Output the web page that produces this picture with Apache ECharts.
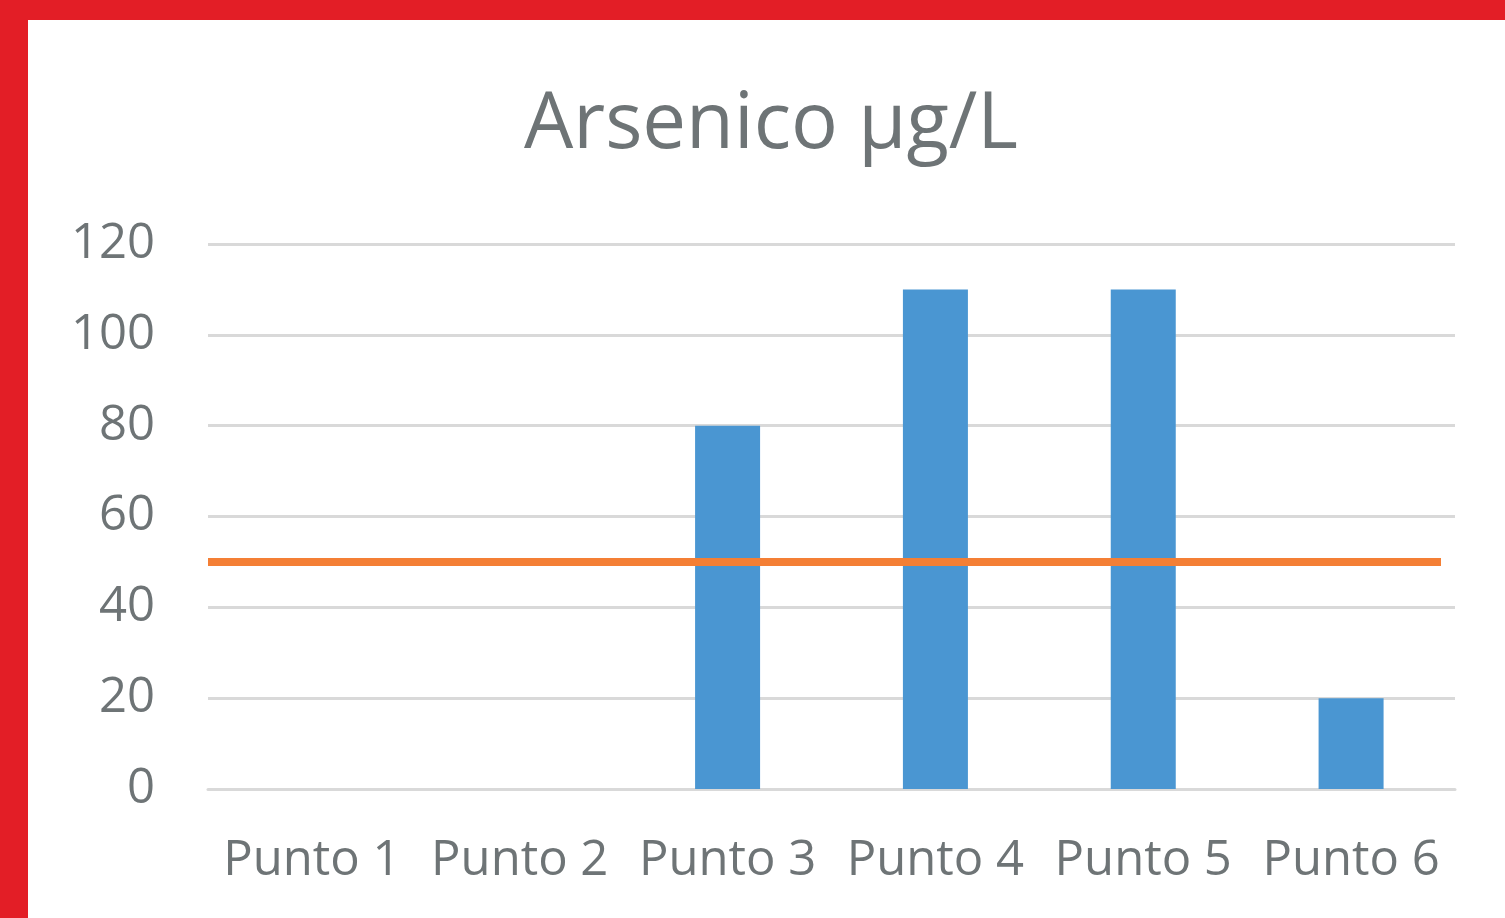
<!DOCTYPE html>
<html>
<head>
<meta charset="utf-8">
<script src="https://cdn.jsdelivr.net/npm/echarts@6/dist/echarts.min.js"></script>
<style>
html,body{margin:0;padding:0;width:1505px;height:918px;overflow:hidden;background:#fff;}
#chart{position:absolute;left:0;top:0;width:1505px;height:918px;}
.red{position:absolute;background:#e31e26;}
</style>
</head>
<body>
<div id="chart"></div>
<div class="red" style="left:0;top:0;width:1505px;height:20px;"></div>
<div class="red" style="left:0;top:0;width:28px;height:918px;"></div>
<script>
const categories = ['Punto 1','Punto 2','Punto 3','Punto 4','Punto 5','Punto 6'];
const arsenico = [0, 0, 80, 110, 110, 20];
const limite = [50, 50, 50, 50, 50, 50];
const yTicks = {min: 0, max: 120, interval: 20};

const chart = echarts.init(document.getElementById('chart'), null, {renderer: 'canvas'});
const font = 'Open Sans';
const gray = '#6e7476';
chart.setOption({
  animation: false,
  backgroundColor: '#ffffff',
  title: {
    text: 'Arsenico µg/L',
    left: 766, top: 82, textAlign: 'center',
    textStyle: {fontFamily: font, fontSize: 78, fontWeight: 'normal', color: gray}
  },
  grid: [
    {left: 208, right: 50, top: 244, bottom: 129},
    {left: 208, right: 64, top: 244, bottom: 129}
  ],
  xAxis: [
    {
      type: 'category', data: categories, gridIndex: 0,
      axisLine: {show: true, lineStyle: {color: '#d9d9d9', width: 3}},
      axisTick: {show: false},
      axisLabel: {fontFamily: font, fontSize: 49, color: gray, margin: 48, interval: 0}
    },
    {
      type: 'category', data: categories, gridIndex: 1, boundaryGap: false, show: false
    }
  ],
  yAxis: [
    {
      type: 'value', gridIndex: 0, min: yTicks.min, max: yTicks.max, interval: yTicks.interval,
      axisLine: {show: false}, axisTick: {show: false},
      axisLabel: {fontFamily: font, fontSize: 49, color: gray, margin: 53},
      splitLine: {lineStyle: {color: '#d9d9d9', width: 3}}
    },
    {
      type: 'value', gridIndex: 1, min: yTicks.min, max: yTicks.max, interval: yTicks.interval, show: false
    }
  ],
  series: [
    {
      name: 'Arsenico', type: 'bar', data: arsenico, xAxisIndex: 0, yAxisIndex: 0,
      barWidth: 65, itemStyle: {color: '#4a96d2'}
    },
    {
      name: 'Limite', type: 'line', data: limite, xAxisIndex: 1, yAxisIndex: 1,
      symbol: 'none', lineStyle: {color: '#f47f35', width: 8}, z: 5
    }
  ]
});
</script>
</body>
</html>
